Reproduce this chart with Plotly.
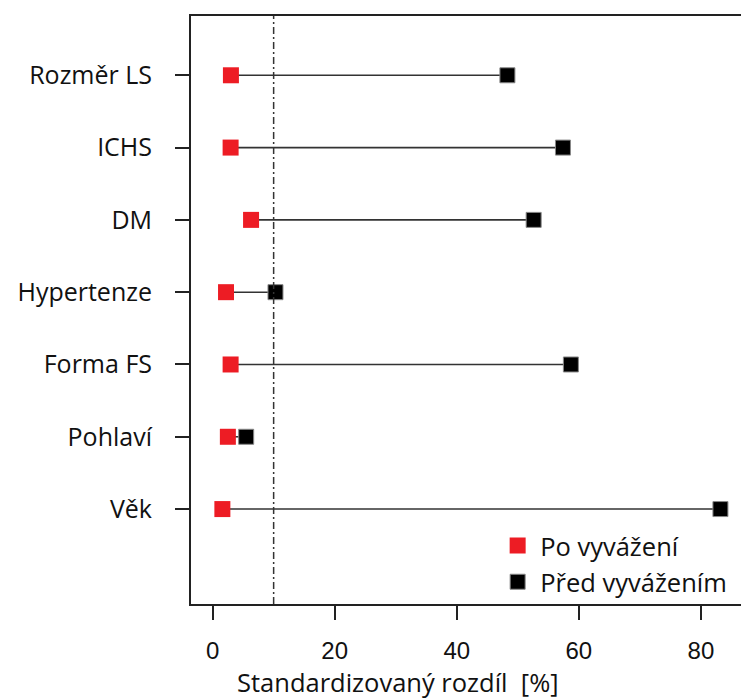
import plotly.graph_objects as go

categories = ["Věk", "Pohlaví", "Forma FS", "Hypertenze", "DM", "ICHS", "Rozměr LS"]
positions = [1, 2, 3, 4, 5, 6, 7]
po_vyvazeni = [1.6, 2.5, 2.95, 2.2, 6.3, 2.95, 3.0]
pred_vyvazenim = [83.2, 5.5, 58.7, 10.3, 52.6, 57.4, 48.3]
x_ticks = [0, 20, 40, 60, 80]
threshold = 10

FONT = "Open Sans"
DARK = "#222222"

fig = go.Figure()

# connecting segments
seg_x, seg_y = [], []
for p, a, b in zip(positions, po_vyvazeni, pred_vyvazenim):
    seg_x += [a, b, None]
    seg_y += [p, p, None]
fig.add_trace(go.Scatter(x=seg_x, y=seg_y, mode="lines",
                         line=dict(color="#333333", width=1.6),
                         showlegend=False, hoverinfo="skip"))

fig.add_trace(go.Scatter(x=po_vyvazeni, y=positions, mode="markers",
                         name="Po vyvážení",
                         marker=dict(symbol="square", size=16, color="#ED1C24",
                                     line=dict(color="#ED1C24", width=0))))
fig.add_trace(go.Scatter(x=pred_vyvazenim, y=positions, mode="markers",
                         name="Před vyvážením",
                         marker=dict(symbol="square", size=15, color="#000000",
                                     line=dict(color="#888888", width=1))))

# threshold line
fig.add_shape(type="line", xref="x", yref="paper", x0=threshold, x1=threshold,
              y0=0, y1=1, line=dict(color="#333333", width=1.5, dash="7px,3px,2px,3px"))

fig.update_layout(
    width=741, height=698,
    margin=dict(l=191, r=0, t=16, b=94),
    paper_bgcolor="white", plot_bgcolor="white",
    font=dict(family=FONT, size=24, color="#111111"),
    showlegend=True,
    legend=dict(x=0.553, y=0.068, xanchor="left", yanchor="middle",
                bgcolor="rgba(0,0,0,0)", font=dict(family=FONT, size=25.5, color="#111111"),
                itemsizing="trace", itemwidth=35, tracegroupgap=0),
    xaxis=dict(range=[-3.54, 86.57], tickvals=x_ticks, ticktext=[str(v) for v in x_ticks],
               showgrid=False, zeroline=False,
               showline=True, linecolor=DARK, linewidth=2, mirror=True,
               ticks="outside", ticklen=14, tickwidth=2, tickcolor=DARK,
               tickfont=dict(family="Liberation Sans", size=24, color="#111111"),
               ticklabelstandoff=10),
    yaxis=dict(range=[-0.313, 7.82], tickvals=positions, ticktext=categories,
               showgrid=False, zeroline=False,
               showline=True, linecolor=DARK, linewidth=2, mirror=False,
               ticks="outside", ticklen=14, tickwidth=2, tickcolor=DARK,
               tickfont=dict(family=FONT, size=25, color="#111111"),
               ticklabelstandoff=18),
)

fig.add_annotation(text="Standardizovaný rozdíl  [%]", xref="paper", yref="paper",
                   x=(397.5 - 191) / 550, y=-(682 - 604) / 588, xanchor="center", yanchor="middle",
                   showarrow=False, font=dict(family=FONT, size=25.5, color="#111111"))

fig.write_html("out.html")
